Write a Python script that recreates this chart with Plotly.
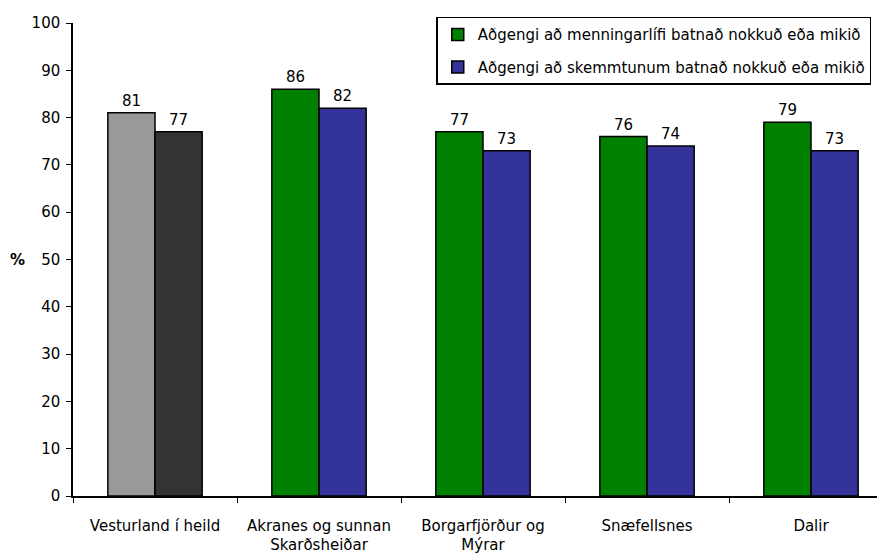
import plotly.graph_objects as go

categories = ["Vesturland í heild", "Akranes og sunnan<br>Skarðsheiðar",
              "Borgarfjörður og<br>Mýrar", "Snæfellsnes", "Dalir"]
menning = [81, 86, 77, 76, 79]
skemmt = [77, 82, 73, 74, 73]
series_names = ["Aðgengi að menningarlífi batnað nokkuð eða mikið",
                "Aðgengi að skemmtunum batnað nokkuð eða mikið"]
y_ticks = list(range(0, 101, 10))

FONT = "DejaVu Sans"
FS = 15
line = dict(color="black", width=1.5)

fig = go.Figure()
fig.add_trace(go.Bar(x=categories[1:], y=menning[1:], name=series_names[0],
                     marker=dict(color="#008000", line=line), offsetgroup="a",
                     legendgroup="g1", text=menning[1:], textposition="outside",
                     cliponaxis=False, constraintext="none",
                     textfont=dict(family=FONT, size=FS, color="black")))
fig.add_trace(go.Bar(x=categories[1:], y=skemmt[1:], name=series_names[1],
                     marker=dict(color="#333399", line=line), offsetgroup="b",
                     legendgroup="g2", text=skemmt[1:], textposition="outside",
                     cliponaxis=False, constraintext="none",
                     textfont=dict(family=FONT, size=FS, color="black")))
fig.add_trace(go.Bar(x=categories[:1], y=menning[:1], showlegend=False,
                     marker=dict(color="#999999", line=line), offsetgroup="a",
                     text=menning[:1], textposition="outside",
                     cliponaxis=False, constraintext="none",
                     textfont=dict(family=FONT, size=FS, color="black")))
fig.add_trace(go.Bar(x=categories[:1], y=skemmt[:1], showlegend=False,
                     marker=dict(color="#333333", line=line), offsetgroup="b",
                     text=skemmt[:1], textposition="outside",
                     cliponaxis=False, constraintext="none",
                     textfont=dict(family=FONT, size=FS, color="black")))

fig.update_layout(
    width=885, height=554,
    margin=dict(l=65, r=0, t=15, b=66, autoexpand=False),
    paper_bgcolor="white", plot_bgcolor="white",
    font=dict(family=FONT, size=FS, color="black"),
    barmode="group", bargap=0.425, bargroupgap=0,
    legend=dict(x=0.443, y=1.013, xanchor="left", yanchor="top",
                bordercolor="black", borderwidth=1.5, bgcolor="white",
                font=dict(family=FONT, size=15, color="black"),
                traceorder="grouped", tracegroupgap=10, itemwidth=30,
                entrywidth=470, entrywidthmode="pixels"),
    xaxis=dict(categoryorder="array", categoryarray=categories,
               range=[-0.5, 4.5], showline=True, linecolor="black", linewidth=1.5,
               ticks="outside", tickson="boundaries", ticklen=5, tickcolor="black",
               tickangle=0, automargin=False, ticklabelstandoff=15,
               showgrid=False, tickfont=dict(family=FONT, size=FS)),
    yaxis=dict(range=[0, 100], tickvals=y_ticks, showline=True, linecolor="black",
               linewidth=1.5, ticks="outside", ticklen=5, tickcolor="black",
               automargin=False, ticklabelstandoff=3,
               showgrid=False, zeroline=False, tickfont=dict(family=FONT, size=FS)),
    annotations=[dict(text="<b>%</b>", x=0, y=0.5, xref="paper", yref="paper",
                      xanchor="center", yanchor="middle", xshift=-56, showarrow=False,
                      font=dict(family=FONT, size=FS))],
)

fig.write_html("out.html")
